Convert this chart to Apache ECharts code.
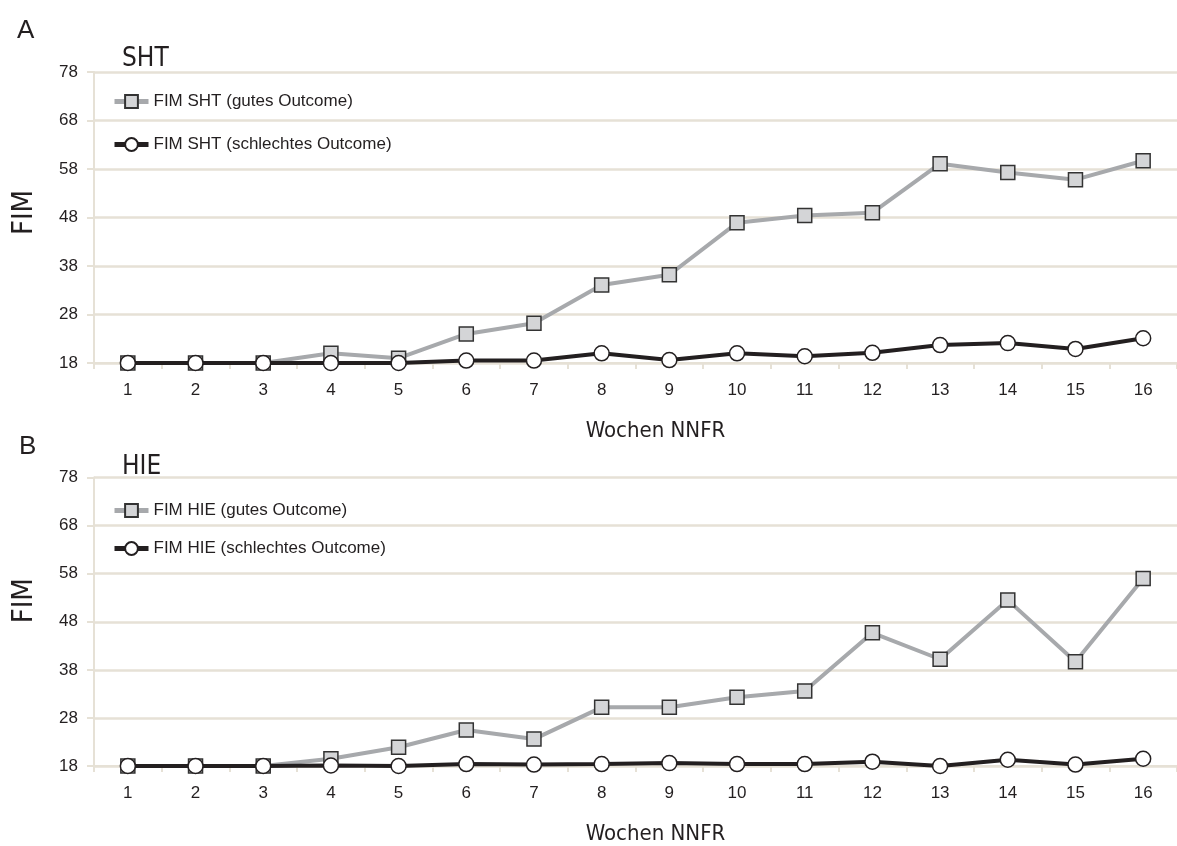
<!DOCTYPE html>
<html>
<head>
<meta charset="utf-8">
<script src="https://cdn.jsdelivr.net/npm/echarts@6/dist/echarts.min.js"></script>
<style>
html,body{margin:0;padding:0;background:#fff;}
#c{width:1177px;height:846px;}
</style>
</head>
<body>
<div id="c"></div>
<script>
const categories = ['1','2','3','4','5','6','7','8','9','10','11','12','13','14','15','16'];
const shtGood = [18, 18, 18, 20, 19, 24, 26.2, 34.1, 36.2, 46.9, 48.4, 49.0, 59.1, 57.3, 55.8, 59.7];
const shtBad  = [18, 18, 18, 18, 18, 18.5, 18.5, 20, 18.6, 20, 19.4, 20.1, 21.7, 22.1, 20.9, 23.1];
const hieGood = [18, 18, 18, 19.5, 21.9, 25.5, 23.6, 30.2, 30.2, 32.3, 33.6, 45.7, 40.2, 52.5, 39.7, 57.0];
const hieBad  = [18, 18, 18, 18.1, 18, 18.4, 18.3, 18.4, 18.6, 18.4, 18.4, 18.9, 18, 19.3, 18.3, 19.5];
const yTicks = { min: 18, max: 78, interval: 10 };
const names = {
  shtGood: 'FIM SHT (gutes Outcome)', shtBad: 'FIM SHT (schlechtes Outcome)',
  hieGood: 'FIM HIE (gutes Outcome)', hieBad: 'FIM HIE (schlechtes Outcome)'
};

const TXT = '#231f20';
const BEIGE = '#e6e1d6';
const SANS = '"Liberation Sans", Arial, sans-serif';
const NARROW = '"Liberation Sans Narrow", "DejaVu Sans Condensed", sans-serif';

function xAxis(gi){
  return {
    type: 'category', gridIndex: gi, data: categories, boundaryGap: true,
    axisLine: { show: true, lineStyle: { color: BEIGE, width: 2 } },
    axisTick: { show: true, length: 6, lineStyle: { color: BEIGE, width: 2 } },
    axisLabel: { color: TXT, fontFamily: SANS, fontSize: 17, margin: 19 },
    name: 'Wochen NNFR', nameLocation: 'middle', nameGap: 57,
    nameTextStyle: { color: TXT, fontFamily: NARROW, fontSize: 22, padding: [0,0,0,40] }
  };
}
function yAxis(gi, pad){
  return {
    type: 'value', gridIndex: gi, min: yTicks.min, max: yTicks.max, interval: yTicks.interval,
    axisLine: { show: true, lineStyle: { color: BEIGE, width: 2 } },
    axisTick: { show: true, length: 7, lineStyle: { color: BEIGE, width: 2 } },
    splitLine: { show: true, lineStyle: { color: BEIGE, width: 2.5 } },
    axisLabel: { color: TXT, fontFamily: SANS, fontSize: 17, margin: 16 },
    name: 'FIM', nameLocation: 'middle', nameGap: 55, nameRotate: 90,
    nameTextStyle: { color: TXT, fontFamily: NARROW, fontSize: 29, padding: [0,0,0,pad] }
  };
}
function good(name, data, i){
  return {
    name: name, type: 'line', data: data, xAxisIndex: i, yAxisIndex: i,
    symbol: 'rect', symbolSize: 14, z: 2,
    lineStyle: { color: '#a7a9ac', width: 4 },
    itemStyle: { color: '#d4d5d7', borderColor: '#333', borderWidth: 1.5 },
    emphasis: { disabled: true }, animation: false
  };
}
function bad(name, data, i){
  return {
    name: name, type: 'line', data: data, xAxisIndex: i, yAxisIndex: i,
    symbol: 'circle', symbolSize: 15, z: 3,
    lineStyle: { color: TXT, width: 4 },
    itemStyle: { color: '#ffffff', borderColor: TXT, borderWidth: 1.5 },
    emphasis: { disabled: true }, animation: false
  };
}
function legend(top, gap, data){
  return {
    orient: 'vertical', left: 112, top: top, padding: 0, itemGap: gap, itemWidth: 34, itemHeight: 16,
    data: data, selectedMode: false,
    lineStyle: { width: 5 },
    textStyle: { color: TXT, fontFamily: SANS, fontSize: 17 }
  };
}

const chart = echarts.init(document.getElementById('c'), null, { renderer: 'canvas' });
chart.setOption({
  backgroundColor: '#ffffff',
  animation: false,
  title: [
    { text: 'A', left: 12, top: 13, textStyle: { color: TXT, fontFamily: SANS, fontWeight: 'normal', fontSize: 26 } },
    { text: 'SHT', left: 117, top: 41, textStyle: { color: TXT, fontFamily: NARROW, fontWeight: 'normal', fontSize: 26 } },
    { text: 'B', left: 14, top: 429, textStyle: { color: TXT, fontFamily: SANS, fontWeight: 'normal', fontSize: 26 } },
    { text: 'HIE', left: 117, top: 449, textStyle: { color: TXT, fontFamily: NARROW, fontWeight: 'normal', fontSize: 26 } }
  ],
  legend: [
    legend(93, 26, [names.shtGood, names.shtBad]),
    legend(502, 21, [names.hieGood, names.hieBad])
  ],
  grid: [
    { left: 94, top: 72, width: 1093, height: 291 },
    { left: 94, top: 477.5, width: 1093, height: 290 }
  ],
  xAxis: [xAxis(0), xAxis(1)],
  yAxis: [yAxis(0, 10), yAxis(1, 42)],
  series: [
    good(names.shtGood, shtGood, 0), bad(names.shtBad, shtBad, 0),
    good(names.hieGood, hieGood, 1), bad(names.hieBad, hieBad, 1)
  ]
});
</script>
</body>
</html>
